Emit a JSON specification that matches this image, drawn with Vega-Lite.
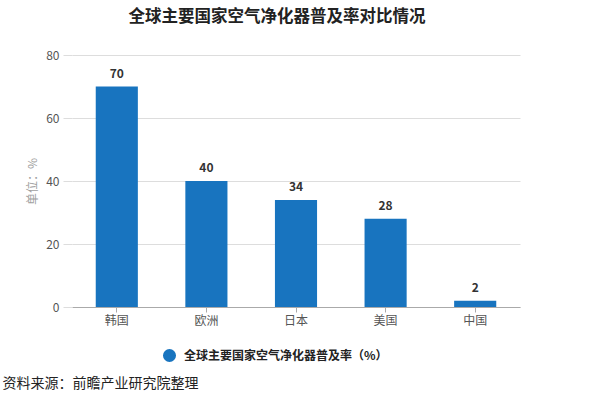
{
  "$schema": "https://vega.github.io/schema/vega-lite/v6.json",
  "width": 448,
  "height": 252,
  "autosize": {"type": "none"},
  "padding": {"left": 72, "top": 55, "right": 71, "bottom": 90},
  "background": "white",
  "config": {
    "view": {"stroke": null},
    "font": "Noto Sans CJK SC"
  },
  "title": {
    "text": "全球主要国家空气净化器普及率对比情况",
    "anchor": "middle",
    "dx": -19,
    "offset": 24,
    "fontSize": 16.5,
    "fontWeight": "bold",
    "color": "#222222",
    "font": "Noto Sans CJK SC"
  },
  "data": {
    "values": [
      {"country": "韩国", "rate": 70, "series": "全球主要国家空气净化器普及率（%）"},
      {"country": "欧洲", "rate": 40, "series": "全球主要国家空气净化器普及率（%）"},
      {"country": "日本", "rate": 34, "series": "全球主要国家空气净化器普及率（%）"},
      {"country": "美国", "rate": 28, "series": "全球主要国家空气净化器普及率（%）"},
      {"country": "中国", "rate": 2, "series": "全球主要国家空气净化器普及率（%）"}
    ]
  },
  "encoding": {
    "x": {
      "field": "country",
      "type": "nominal",
      "sort": null,
      "scale": {"paddingInner": 0.53, "paddingOuter": 0.265},
      "axis": {
        "labelAngle": 0,
        "labelFontSize": 12,
        "labelColor": "#555555",
        "labelPadding": 3,
        "domainColor": "#aaaaaa",
        "tickColor": "#aaaaaa",
        "tickSize": 5,
        "title": "资料来源：前瞻产业研究院整理",
        "titleAnchor": "start",
        "titleAlign": "left",
        "titleBaseline": "middle",
        "titleX": -70,
        "titleY": 76,
        "titleFontSize": 14,
        "titleFontWeight": "normal",
        "titleColor": "#222222"
      }
    },
    "y": {
      "field": "rate",
      "type": "quantitative",
      "scale": {"domain": [0, 80]},
      "axis": {
        "values": [0, 20, 40, 60, 80],
        "domain": false,
        "tickSize": 9,
        "tickColor": "#dddddd",
        "gridColor": "#dddddd",
        "labelFontSize": 12,
        "labelColor": "#555555",
        "labelPadding": 4,
        "title": "单位：%",
        "titleFontSize": 12,
        "titleFontWeight": "normal",
        "titleColor": "#a0a0a0",
        "titlePadding": 6
      }
    }
  },
  "layer": [
    {
      "mark": {"type": "bar", "color": "#1874BF"},
      "encoding": {
        "color": {
          "field": "series",
          "type": "nominal",
          "scale": {"range": ["#1874BF"]},
          "legend": {
            "title": null,
            "orient": "none",
            "legendX": 90,
            "legendY": 293,
            "symbolType": "circle",
            "symbolSize": 170,
            "labelFontSize": 12,
            "labelFontWeight": "bold",
            "labelColor": "#222222",
            "labelOffset": 7,
            "labelLimit": 0
          }
        }
      }
    },
    {
      "mark": {
        "type": "text",
        "baseline": "bottom",
        "dy": -6,
        "fontSize": 12,
        "fontWeight": "bold",
        "color": "#333333"
      },
      "encoding": {"text": {"field": "rate", "type": "quantitative"}}
    }
  ]
}
